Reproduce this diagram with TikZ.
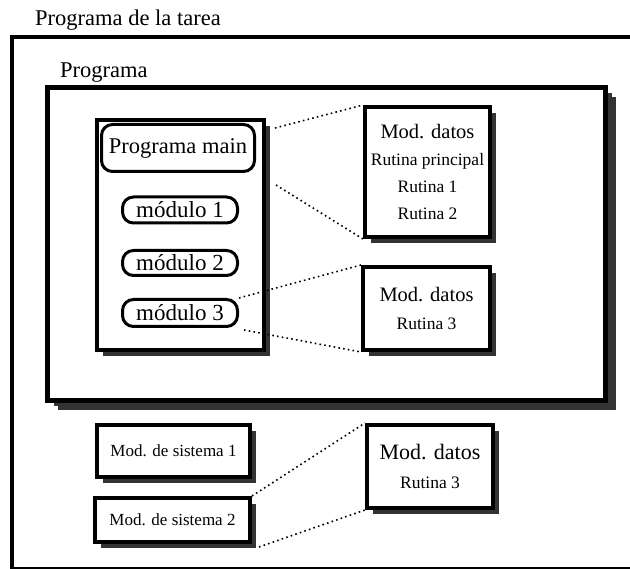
\documentclass[tikz,border=0pt]{standalone}
\usepackage{fontspec}
\setmainfont{Liberation Serif}
\usetikzlibrary{calc,positioning,shadows}
\definecolor{cSombra}{HTML}{333333}
\tikzset{
  marco/.style={draw,line width=4pt,inner sep=0pt,anchor=north west},
  sombra/.style={drop shadow={shadow xshift=#1,shadow yshift=-#1,fill=cSombra,opacity=1}},
  sombra/.default=6pt,
  caja/.style={draw,fill=white,line width=4pt,inner sep=0pt,align=center,sombra},
  modbox/.style={draw,fill=white,line width=3pt,rounded corners=11pt,inner sep=0pt,
    font=\fontsize{23}{26}\selectfont},
  datbox/.style={caja,font=\fontsize{17.5}{27}\selectfont},
  sisbox/.style={caja,font=\fontsize{17}{20}\selectfont},
  tit/.style={font=\fontsize{22.5}{26}\selectfont,anchor=base west,inner sep=0pt},
  enlace/.style={line width=1.6pt,dash pattern=on 1.6pt off 3.2pt},
}
\newcommand{\modgrande}{\fontsize{20.5}{24}\selectfont}

\begin{document}
\begin{tikzpicture}[x=1pt,y=-1pt]
  \clip (0,0) rectangle (630,569);
  \fill[white] (0,0) rectangle (630,569);

  % programa de la tarea
  \node[tit] (titTarea) at (35,26) {Programa de la tarea};
  \node[marco,minimum width=660,minimum height=532] (tarea) at (10,35) {};

  % programa
  \node[tit] (titProg) at (60,78) {Programa};
  \node[caja,line width=5pt,sombra=10pt,minimum width=558,minimum height=313,anchor=north west] (prog) at (45,85) {};

  \node[caja,minimum width=167,minimum height=230,anchor=north west] (col) at (95,118) {};
  \node[modbox,font=\fontsize{22.5}{26}\selectfont,minimum width=153,minimum height=47] (main) at (178,148) {Programa main};
  \node[modbox,minimum width=115,minimum height=26] (mod1) at (180,210) {módulo 1};
  \node[modbox,minimum width=115,minimum height=25] (mod2) at (180,263) {módulo 2};
  \node[modbox,minimum width=115,minimum height=27] (mod3) at (180,313) {módulo 3};

  \node[datbox,minimum width=125,minimum height=130] (dat1) at (427.5,172)
    {{\modgrande Mod. datos}\\Rutina principal\\Rutina 1\\Rutina 2};
  \node[datbox,font=\fontsize{17.5}{28}\selectfont,minimum width=127,minimum height=83] (dat2) at (426.5,308.5)
    {{\modgrande Mod. datos}\\Rutina 3};

  % modulos de sistema
  \node[sisbox,minimum width=153,minimum height=52] (sis1) at (173.5,451) {Mod. de sistema 1};
  \node[sisbox,minimum width=155,minimum height=44] (sis2) at (172.5,520) {Mod. de sistema 2};
  \node[datbox,font=\fontsize{17.5}{29}\selectfont,minimum width=126,minimum height=83] (dat3) at (430,466.5)
    {{\fontsize{22}{26}\selectfont Mod. datos}\\Rutina 3};

  % enlaces punteados
  \draw[enlace] ($(col.north east)+(9,10)$) -- (dat1.north west);
  \draw[enlace] ($(col.north east)+(10,67)$) -- (dat1.south west);
  \draw[enlace] (mod3.north east) -- (dat2.north west);
  \draw[enlace] ($(mod3.south east)+(5,2)$) -- (dat2.south west);
  \draw[enlace] (sis2.north east) -- (dat3.north west);
  \draw[enlace] ($(sis2.south east)+(7,3)$) -- (dat3.south west);
\end{tikzpicture}
\end{document}
